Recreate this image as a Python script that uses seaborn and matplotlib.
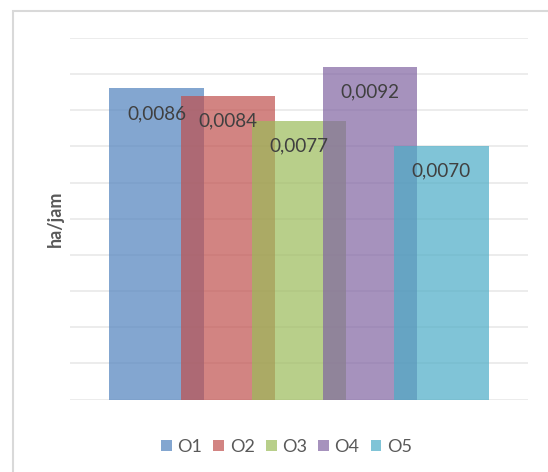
import matplotlib
matplotlib.use("Agg")
import matplotlib.pyplot as plt
import matplotlib.patches as mpatches
import seaborn as sns
import pandas as pd

# Series names and their values (ha/jam)
series = ["O1", "O2", "O3", "O4", "O5"]
values = [0.0086, 0.0084, 0.0077, 0.0092, 0.0070]
colors = ["#4F81BD", "#C0504D", "#9BBB59", "#8064A2", "#4BACC6"]

sns.set_theme(style="white")
plt.rcParams["font.family"] = ["Lato", "DejaVu Sans"]

df = pd.DataFrame({"seri": series, "nilai": values})

fig = plt.figure(figsize=(5.48, 4.72), dpi=100)
ax = fig.add_axes([0.1276, 0.1532, 0.8355, 0.7669])

sns.barplot(data=df, x="seri", y="nilai", hue="seri", palette=colors,
            order=series, hue_order=series, width=1.332, alpha=0.7,
            saturation=1, linewidth=0, errorbar=None, legend=False,
            dodge=False, ax=ax)

ax.set_xlim(-1.2215, 5.217)
ax.set_ylim(0, 0.010)
ax.set_yticks([i / 1000 for i in range(11)])
ax.set_yticklabels([])
ax.set_xticks([])
ax.set_xlabel("")
ax.tick_params(left=False, bottom=False)
ax.grid(axis="y", color="#EBEBEB", linewidth=1.3)
ax.set_axisbelow(True)
for s in ax.spines.values():
    s.set_visible(False)

# Value labels inside the top of each bar
for i, v in enumerate(values):
    ax.annotate(f"{v:.4f}".replace(".", ","), xy=(i, v),
                xytext=(0, -25), textcoords="offset pixels",
                ha="center", va="center", fontsize=13.6, color="#404040",
                zorder=10)

ax.set_ylabel("ha/jam", fontweight="bold", color="#595959", fontsize=13)
ax.yaxis.set_label_coords(-0.0135, 0.5)

handles = [mpatches.Patch(facecolor=c, alpha=0.7, linewidth=0) for c in colors]
fig.legend(handles, series, loc="center", bbox_to_anchor=(0.5228, 0.053),
           ncol=5, frameon=False, fontsize=13, handlelength=0.6,
           handleheight=0.6, handletextpad=0.3, columnspacing=0.62,
           labelcolor="#595959")

# Chart area frame
fig.patches.append(mpatches.Rectangle((13 / 548, -0.1), 1.0, (472 - 11) / 472 + 0.1,
                                      transform=fig.transFigure, fill=False,
                                      edgecolor="#D9D9D9", linewidth=1.5))

fig.savefig("out.png", dpi=100)
